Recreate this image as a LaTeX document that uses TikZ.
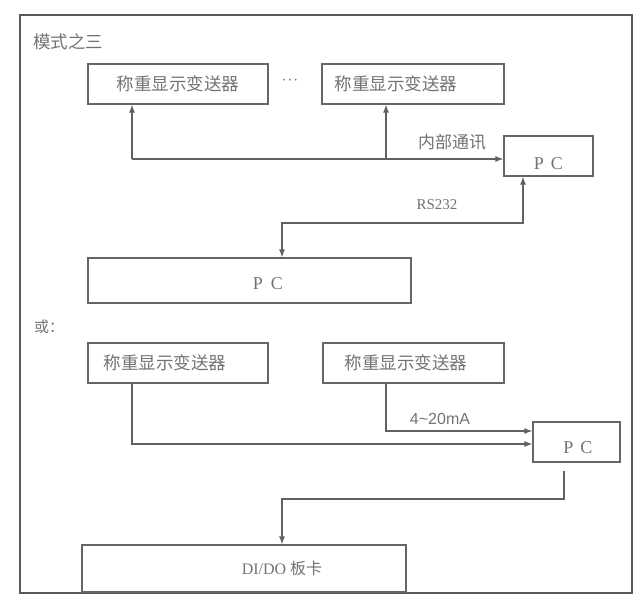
\documentclass[tikz,border=0pt]{standalone}
\usepackage{fontspec}
\setmainfont{Liberation Serif}
\newfontfamily\cjk{Noto Sans CJK SC}
\newfontfamily\arial{Liberation Sans}
\usetikzlibrary{arrows.meta, positioning, calc}

\begin{document}
\begin{tikzpicture}[
            x=1pt, y=-1pt,
            >={Latex[length=8pt,width=6pt]},
            devbox/.style={
                rectangle, draw=black!60, line width=1.2pt,
                minimum width=180pt, minimum height=40pt, inner sep=0pt,
                text=black!55, font=\cjk\fontsize{17.5}{17.5}\selectfont
            },
            pcbox/.style={
                devbox, font=\rmfamily\fontsize{18}{18}\selectfont
            },
            wire/.style={draw=black!62, line width=1.2pt},
            tag/.style={text=black!55, inner sep=0pt, font=\cjk\fontsize{17}{17}\selectfont}
        ]
            \useasboundingbox (0,0) rectangle (643,608);
            \draw[black!65, line width=1.5pt] (20,15) rectangle (632,593);

            \node[tag, anchor=west, font=\cjk\fontsize{17.5}{17.5}\selectfont] (title) at (33,42) {模式之三};
            \node[devbox] (wt1) at (178,84) {称重显示变送器};
            \node[tag, font=\fontsize{18}{18}\selectfont] (dots) at (290,81) {$\cdot\!\cdot\!\cdot$};
            \node[devbox, minimum width=182pt] (wt2) at (413,84) {\hspace{-34pt}称重显示变送器};
            \node[pcbox, minimum width=89pt, text height=26pt, text depth=0pt] (pc1) at (548.5,156) {P\hspace{7pt}C};
            \node[pcbox, minimum width=323pt, minimum height=45pt, text height=17pt, text depth=0pt] (pc2) at (249.5,280.5) {\hspace{37pt}P\hspace{8pt}C};

            \node[tag] (inner) at (452,142) {内部通讯};
            \node[tag, font=\rmfamily\fontsize{15}{15}\selectfont] (rs) at (437,205) {RS232};

            \node[tag, anchor=west, font=\cjk\fontsize{15}{15}\selectfont] (alt) at (34,327) {或：};
            \node[devbox] (wt3) at (178,363) {\hspace{-26pt}称重显示变送器};
            \node[devbox, minimum width=181pt] (wt4) at (413.5,363) {\hspace{-15pt}称重显示变送器};
            \node[pcbox, minimum width=87pt, text height=22pt, text depth=0pt] (pc3) at (576.5,442) {\hspace{3pt}P\hspace{7pt}C};
            \node[tag, font=\arial\fontsize{16}{16}\selectfont] (ma) at (440,419) {4\textasciitilde 20mA};
            \node[pcbox, minimum width=324pt, minimum height=47pt, font=\rmfamily\fontsize{16}{16}\selectfont] (dio) at (244,568.5) {\hspace{76pt}DI/DO {\cjk 板卡}};

            \coordinate (bus) at (132,159);
            \coordinate (tap) at (386,159);
            \draw[wire, ->] (bus) -- (wt1.south -| bus);
            \draw[wire, ->] (tap) -- (wt2.south -| tap);
            \draw[wire, ->] (bus) -- (bus -| pc1.west);

            \coordinate (rsR) at (523,223);
            \coordinate (rsL) at (282,223);
            \draw[wire, <->] (pc1.south -| rsR) -- (rsR) -- (rsL) -- (pc2.north -| rsL);

            \coordinate (maR) at (386,431);
            \coordinate (loR) at (132,444);
            \draw[wire, ->] (wt4.south -| maR) -- (maR) -- (maR -| pc3.west);
            \draw[wire, ->] (wt3.south -| loR) -- (loR) -- (loR -| pc3.west);

            \coordinate (outR) at (564,499);
            \coordinate (outL) at (282,499);
            \draw[wire, ->, shorten <=8pt] (pc3.south -| outR) -- (outR) -- (outL) -- (dio.north -| outL);
        \end{tikzpicture}
\end{document}
